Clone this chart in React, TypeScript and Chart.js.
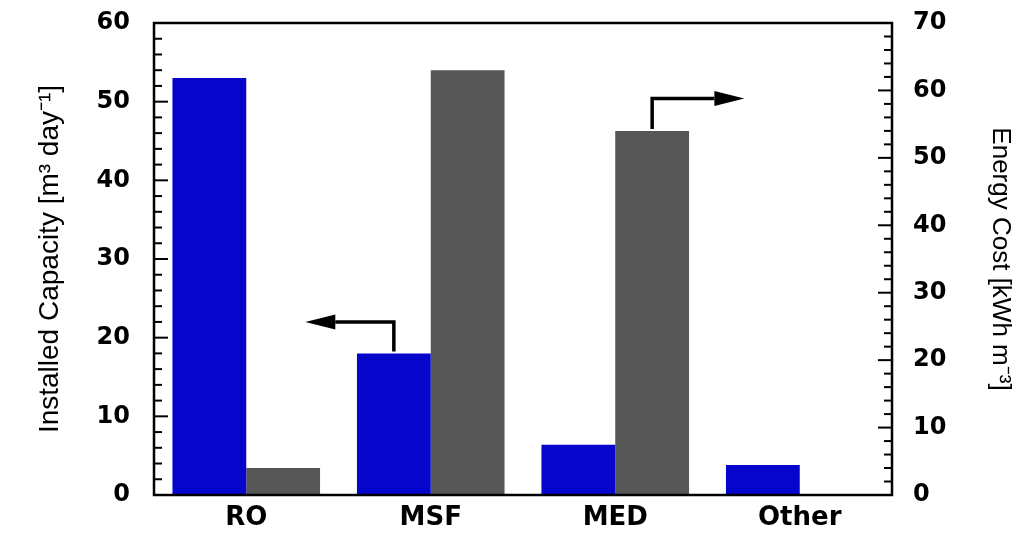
import React, { useEffect, useRef } from "react";
import { Chart, registerables } from "chart.js";

Chart.register(...registerables);

const categories = ["RO", "MSF", "MED", "Other"];
const installedCapacity = [53, 18, 6.4, 3.8];
const energyCost = [4, 63, 54, null];
const leftTicksMax = 60;
const rightTicksMax = 70;

// annotation arrows: start at a bar top, rise to a value on that bar's axis, then run to a category position
const arrows = [
  { dataset: 0, index: 1, axis: "y", riseTo: 22, toCategory: 0.32 },
  { dataset: 1, index: 2, axis: "y1", riseTo: 58.8, toCategory: 2.7 },
];

const BLUE = "#0505cc";
const GREY = "#565656";

const framePlugin = {
  id: "frame",
  afterDatasetsDraw(chart: any) {
    const { ctx, chartArea } = chart;
    const { left, right, top, bottom } = chartArea;
    const yL = chart.scales.y;
    const yR = chart.scales.y1;
    const xS = chart.scales.x;
    ctx.save();
    ctx.strokeStyle = "#000";
    ctx.lineWidth = 2.5;
    ctx.strokeRect(left, top, right - left, bottom - top);
    ctx.lineWidth = 2;
    for (let v = 0; v <= leftTicksMax; v += 2) {
      const py = yL.getPixelForValue(v);
      const len = v % 10 === 0 ? 14 : 8;
      ctx.beginPath();
      ctx.moveTo(left, py);
      ctx.lineTo(left + len, py);
      ctx.stroke();
    }
    for (let v = 0; v <= rightTicksMax; v += 2) {
      const py = yR.getPixelForValue(v);
      const len = v % 10 === 0 ? 14 : 8;
      ctx.beginPath();
      ctx.moveTo(right, py);
      ctx.lineTo(right - len, py);
      ctx.stroke();
    }
    // arrows
    ctx.lineWidth = 3.5;
    ctx.fillStyle = "#000";
    arrows.forEach((a) => {
      const bar = chart.getDatasetMeta(a.dataset).data[a.index];
      const sx = bar.x;
      const sy = bar.y - 2;
      const ty = chart.scales[a.axis].getPixelForValue(a.riseTo);
      const tx = xS.getPixelForValue(a.toCategory);
      const dir = tx < sx ? -1 : 1;
      const headLen = 30;
      ctx.beginPath();
      ctx.moveTo(sx, sy);
      ctx.lineTo(sx, ty);
      ctx.lineTo(tx - dir * headLen, ty);
      ctx.stroke();
      ctx.beginPath();
      ctx.moveTo(tx, ty);
      ctx.lineTo(tx - dir * headLen, ty - 7.5);
      ctx.lineTo(tx - dir * headLen, ty + 7.5);
      ctx.closePath();
      ctx.fill();
    });
    ctx.restore();
  },
};

export default function App() {
  const ref = useRef<HTMLCanvasElement>(null);
  useEffect(() => {
    if (!ref.current) return;
    const tickFont = { family: "'DejaVu Sans', 'Liberation Sans', sans-serif", size: 24, weight: "bold" as const };
    const xFont = { family: "'DejaVu Sans', 'Liberation Sans', sans-serif", size: 26, weight: "bold" as const };
    const titleFontL = { family: "'Liberation Sans', Arial, sans-serif", size: 28 };
    const titleFontR = { family: "'Liberation Sans', Arial, sans-serif", size: 26 };
    const chart = new Chart(ref.current, {
      type: "bar",
      data: {
        labels: categories,
        datasets: [
          {
            label: "Installed Capacity",
            data: installedCapacity,
            backgroundColor: BLUE,
            yAxisID: "y",
            barPercentage: 1,
            categoryPercentage: 0.8,
          },
          {
            label: "Energy Cost",
            data: energyCost as any,
            backgroundColor: GREY,
            yAxisID: "y1",
            barPercentage: 1,
            categoryPercentage: 0.8,
          },
        ],
      },
      options: {
        responsive: false,
        animation: false,
        layout: { padding: { top: 23, left: 0, right: 0, bottom: 0 } },
        plugins: { legend: { display: false }, tooltip: { enabled: false } },
        scales: {
          x: {
            grid: { display: false, drawTicks: false },
            border: { display: false },
            ticks: { color: "#000", font: xFont, padding: 8 },
            afterFit: (s: any) => {
              s.height = 40;
              s.paddingLeft = 0;
              s.paddingRight = 0;
            },
          },
          y: {
            position: "left",
            min: 0,
            max: leftTicksMax,
            grid: { display: false, drawTicks: false },
            border: { display: false },
            ticks: { stepSize: 10, color: "#000", font: tickFont, padding: 24 },
            title: {
              display: true,
              text: "Installed Capacity [m³ day⁻¹]",
              color: "#000",
              font: titleFontL,
              padding: { top: 33, bottom: 0 },
            },
            afterFit: (s: any) => {
              s.width = 154;
              s.paddingTop = 0;
              s.paddingBottom = 0;
            },
          },
          y1: {
            position: "right",
            min: 0,
            max: rightTicksMax,
            grid: { display: false, drawTicks: false },
            border: { display: false },
            ticks: { stepSize: 10, color: "#000", font: tickFont, padding: 21 },
            title: {
              display: true,
              text: "Energy Cost [kWh m⁻³]",
              color: "#000",
              font: titleFontR,
              padding: { top: 19, bottom: 0 },
            },
            afterFit: (s: any) => {
              s.width = 143;
              s.paddingTop = 0;
              s.paddingBottom = 0;
            },
          },
        },
      },
      plugins: [framePlugin],
    });
    return () => chart.destroy();
  }, []);
  return (
    <div style={{ position: "absolute", left: 0, top: 0, width: 1035, height: 535, background: "#fff" }}>
      <canvas ref={ref} width={1035} height={535} />
    </div>
  );
}
